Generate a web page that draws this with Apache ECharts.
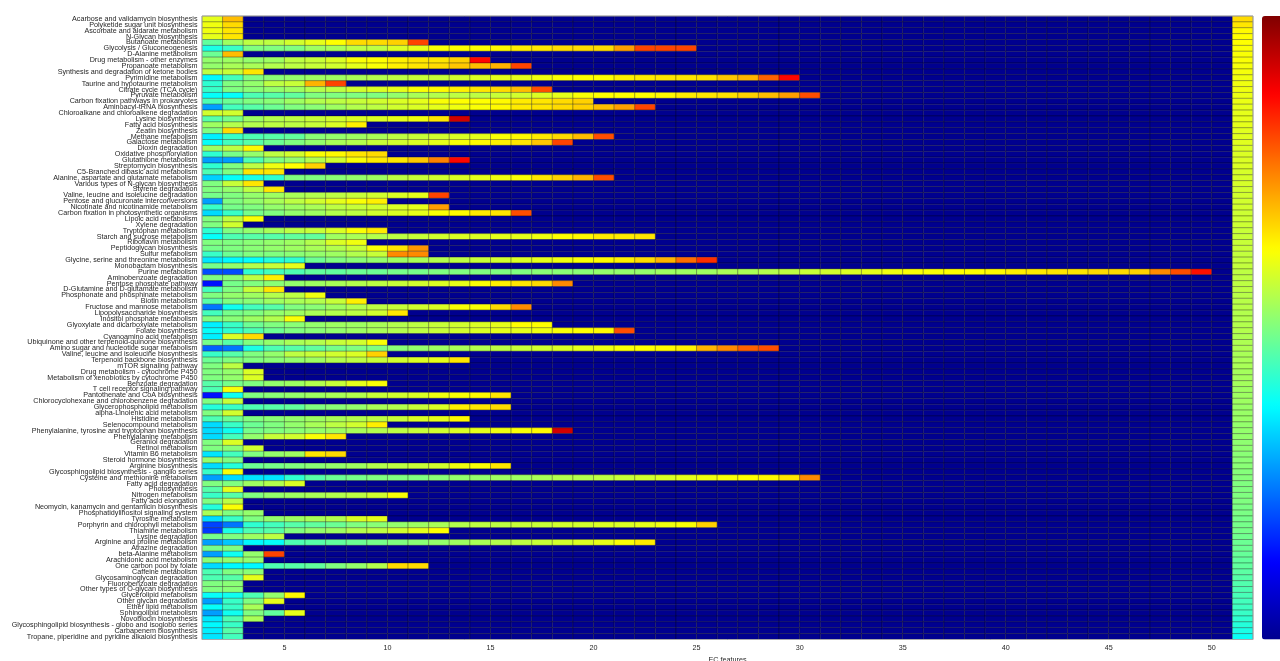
<!DOCTYPE html>
<html>
<head>
<meta charset="utf-8">
<script src="https://cdn.jsdelivr.net/npm/echarts@6/dist/echarts.min.js"></script>
<style>
html,body{margin:0;padding:0;background:#fff;}
#chart{width:1280px;height:661px;}
</style>
</head>
<body>
<div id="chart"></div>
<script>
// Pathway names (rows, top to bottom)
const pathways = [
"Acarbose and validamycin biosynthesis","Polyketide sugar unit biosynthesis","Ascorbate and aldarate metabolism","N-Glycan biosynthesis","Butanoate metabolism","Glycolysis / Gluconeogenesis","D-Alanine metabolism","Drug metabolism - other enzymes","Propanoate metabolism","Synthesis and degradation of ketone bodies",
"Pyrimidine metabolism","Taurine and hypotaurine metabolism","Citrate cycle (TCA cycle)","Pyruvate metabolism","Carbon fixation pathways in prokaryotes","Aminoacyl-tRNA biosynthesis","Chloroalkane and chloroalkene degradation","Lysine biosynthesis","Fatty acid biosynthesis","Zeatin biosynthesis",
"Methane metabolism","Galactose metabolism","Dioxin degradation","Oxidative phosphorylation","Glutathione metabolism","Streptomycin biosynthesis","C5-Branched dibasic acid metabolism","Alanine, aspartate and glutamate metabolism","Various types of N-glycan biosynthesis","Styrene degradation",
"Valine, leucine and isoleucine degradation","Pentose and glucuronate interconversions","Nicotinate and nicotinamide metabolism","Carbon fixation in photosynthetic organisms","Lipoic acid metabolism","Xylene degradation","Tryptophan metabolism","Starch and sucrose metabolism","Riboflavin metabolism","Peptidoglycan biosynthesis",
"Sulfur metabolism","Glycine, serine and threonine metabolism","Monobactam biosynthesis","Purine metabolism","Aminobenzoate degradation","Pentose phosphate pathway","D-Glutamine and D-glutamate metabolism","Phosphonate and phosphinate metabolism","Biotin metabolism","Fructose and mannose metabolism",
"Lipopolysaccharide biosynthesis","Inositol phosphate metabolism","Glyoxylate and dicarboxylate metabolism","Folate biosynthesis","Cyanoamino acid metabolism","Ubiquinone and other terpenoid-quinone biosynthesis","Amino sugar and nucleotide sugar metabolism","Valine, leucine and isoleucine biosynthesis","Terpenoid backbone biosynthesis","mTOR signaling pathway",
"Drug metabolism - cytochrome P450","Metabolism of xenobiotics by cytochrome P450","Benzoate degradation","T cell receptor signaling pathway","Pantothenate and CoA biosynthesis","Chlorocyclohexane and chlorobenzene degradation","Glycerophospholipid metabolism","alpha-Linolenic acid metabolism","Histidine metabolism","Selenocompound metabolism",
"Phenylalanine, tyrosine and tryptophan biosynthesis","Phenylalanine metabolism","Geraniol degradation","Retinol metabolism","Vitamin B6 metabolism","Steroid hormone biosynthesis","Arginine biosynthesis","Glycosphingolipid biosynthesis - ganglio series","Cysteine and methionine metabolism","Fatty acid degradation",
"Photosynthesis","Nitrogen metabolism","Fatty acid elongation","Neomycin, kanamycin and gentamicin biosynthesis","Phosphatidylinositol signaling system","Tyrosine metabolism","Porphyrin and chlorophyll metabolism","Thiamine metabolism","Lysine degradation","Arginine and proline metabolism",
"Atrazine degradation","beta-Alanine metabolism","Arachidonic acid metabolism","One carbon pool by folate","Caffeine metabolism","Glycosaminoglycan degradation","Fluorobenzoate degradation","Other types of O-glycan biosynthesis","Glycerolipid metabolism","Other glycan degradation",
"Ether lipid metabolism","Sphingolipid metabolism","Novobiocin biosynthesis","Glycosphingolipid biosynthesis - globo and isoglobo series","Carbapenem biosynthesis","Tropane, piperidine and pyridine alkaloid biosynthesis"
];

// Values of the filled cells of each row, starting at EC feature 1
const runs = [
[0.6,0.69],
[0.61,0.66],
[0.61,0.65],
[0.6,0.65],
[0.47,0.53,0.56,0.56,0.58,0.6,0.625,0.66,0.66,0.67,0.81],
[0.4,0.43,0.5,0.5,0.5,0.53,0.54,0.56,0.56,0.59,0.6,0.62,0.625,0.625,0.63,0.645,0.65,0.66,0.66,0.66,0.72,0.81,0.81,0.81],
[0.48,0.69],
[0.52,0.53,0.52,0.53,0.56,0.57,0.59,0.62,0.625,0.64,0.65,0.65,0.67,0.87],
[0.52,0.54,0.54,0.55,0.56,0.57,0.58,0.6,0.62,0.64,0.65,0.66,0.68,0.69,0.7,0.81],
[0.56,0.57,0.65],
[0.37,0.44,0.5,0.51,0.52,0.53,0.53,0.54,0.55,0.56,0.57,0.57,0.58,0.59,0.6,0.6,0.61,0.62,0.625,0.625,0.64,0.645,0.65,0.65,0.655,0.68,0.7,0.78,0.87],
[0.42,0.5,0.52,0.56,0.57,0.7,0.81],
[0.43,0.5,0.51,0.52,0.53,0.55,0.56,0.58,0.59,0.6,0.62,0.63,0.64,0.65,0.66,0.69,0.8],
[0.38,0.38,0.45,0.46,0.47,0.5,0.5,0.5,0.5,0.52,0.54,0.55,0.56,0.56,0.57,0.58,0.59,0.6,0.62,0.625,0.625,0.625,0.63,0.645,0.65,0.655,0.67,0.69,0.72,0.8],
[0.45,0.48,0.5,0.51,0.53,0.55,0.56,0.57,0.58,0.59,0.6,0.62,0.625,0.625,0.63,0.645,0.65,0.66,0.67],
[0.28,0.44,0.46,0.48,0.5,0.51,0.53,0.55,0.56,0.58,0.59,0.6,0.61,0.62,0.63,0.645,0.65,0.66,0.67,0.69,0.72,0.81],
[0.58,0.58],
[0.46,0.49,0.53,0.55,0.56,0.57,0.58,0.59,0.59,0.6,0.61,0.65,0.92],
[0.53,0.55,0.55,0.56,0.56,0.57,0.59,0.64],
[0.5,0.66],
[0.36,0.43,0.45,0.46,0.47,0.51,0.52,0.53,0.54,0.56,0.57,0.58,0.59,0.6,0.62,0.63,0.645,0.66,0.69,0.8],
[0.38,0.44,0.46,0.48,0.5,0.52,0.54,0.55,0.57,0.58,0.59,0.6,0.62,0.63,0.64,0.65,0.68,0.81],
[0.53,0.56,0.63],
[0.42,0.49,0.52,0.56,0.58,0.62,0.63,0.65,0.66],
[0.28,0.28,0.45,0.5,0.52,0.55,0.58,0.62,0.645,0.65,0.68,0.75,0.87],
[0.42,0.5,0.56,0.61,0.625,0.67],
[0.45,0.5,0.65,0.65],
[0.33,0.38,0.4,0.42,0.5,0.5,0.51,0.52,0.53,0.56,0.57,0.58,0.59,0.6,0.61,0.62,0.65,0.67,0.7,0.8],
[0.5,0.57,0.65],
[0.5,0.52,0.56,0.65],
[0.49,0.5,0.52,0.53,0.54,0.55,0.56,0.57,0.58,0.59,0.6,0.81],
[0.28,0.5,0.52,0.54,0.56,0.58,0.6,0.62,0.64],
[0.43,0.49,0.5,0.52,0.53,0.54,0.56,0.57,0.58,0.59,0.6,0.72],
[0.34,0.43,0.49,0.5,0.52,0.53,0.55,0.56,0.58,0.59,0.6,0.62,0.63,0.645,0.65,0.8],
[0.5,0.56,0.62],
[0.5,0.58],
[0.42,0.5,0.52,0.54,0.56,0.57,0.59,0.62,0.645],
[0.38,0.45,0.46,0.46,0.47,0.47,0.53,0.54,0.55,0.56,0.57,0.58,0.59,0.59,0.6,0.6,0.61,0.625,0.63,0.645,0.645,0.65],
[0.5,0.5,0.51,0.52,0.53,0.55,0.59,0.61],
[0.49,0.5,0.51,0.52,0.53,0.54,0.55,0.57,0.62,0.65,0.73],
[0.43,0.48,0.5,0.5,0.51,0.52,0.53,0.55,0.57,0.74,0.74],
[0.35,0.37,0.38,0.41,0.42,0.48,0.5,0.51,0.52,0.53,0.54,0.55,0.56,0.57,0.58,0.59,0.6,0.61,0.62,0.63,0.64,0.66,0.7,0.77,0.83],
[0.49,0.52,0.55,0.57,0.6],
[0.2,0.2,0.42,0.44,0.45,0.47,0.47,0.48,0.48,0.49,0.49,0.5,0.5,0.5,0.5,0.5,0.51,0.51,0.51,0.52,0.52,0.52,0.53,0.53,0.53,0.54,0.54,0.55,0.56,0.57,0.58,0.59,0.6,0.61,0.62,0.62,0.625,0.625,0.63,0.64,0.645,0.65,0.65,0.66,0.66,0.67,0.74,0.8,0.86],
[0.5,0.51,0.56,0.64],
[0.14,0.49,0.5,0.51,0.52,0.53,0.54,0.55,0.56,0.57,0.58,0.59,0.6,0.62,0.64,0.65,0.66,0.74],
[0.44,0.5,0.57,0.65],
[0.5,0.52,0.53,0.55,0.56,0.61],
[0.46,0.5,0.51,0.53,0.54,0.55,0.57,0.64],
[0.24,0.39,0.44,0.46,0.5,0.51,0.53,0.55,0.56,0.57,0.58,0.59,0.62,0.62,0.66,0.74],
[0.44,0.49,0.5,0.52,0.53,0.54,0.55,0.56,0.58,0.65],
[0.5,0.51,0.53,0.55,0.62],
[0.36,0.43,0.48,0.5,0.51,0.52,0.53,0.53,0.54,0.55,0.56,0.57,0.58,0.59,0.6,0.625,0.625],
[0.38,0.42,0.45,0.48,0.5,0.51,0.52,0.53,0.54,0.55,0.56,0.57,0.58,0.59,0.6,0.6,0.61,0.62,0.625,0.63,0.8],
[0.36,0.59,0.66],
[0.49,0.46,0.5,0.52,0.54,0.55,0.57,0.58,0.62],
[0.22,0.24,0.4,0.45,0.46,0.47,0.49,0.5,0.5,0.51,0.52,0.53,0.54,0.55,0.56,0.57,0.58,0.59,0.6,0.61,0.62,0.625,0.63,0.64,0.7,0.74,0.78,0.8],
[0.43,0.46,0.5,0.52,0.56,0.57,0.58,0.59,0.67],
[0.48,0.5,0.5,0.51,0.52,0.53,0.55,0.56,0.57,0.58,0.59,0.6,0.65],
[0.5,0.56],
[0.5,0.52,0.59],
[0.5,0.52,0.59],
[0.46,0.49,0.5,0.52,0.53,0.55,0.57,0.6,0.62],
[0.45,0.62],
[0.14,0.39,0.5,0.51,0.52,0.53,0.54,0.55,0.57,0.58,0.59,0.61,0.62,0.63,0.65],
[0.5,0.57],
[0.41,0.43,0.45,0.46,0.47,0.5,0.51,0.52,0.54,0.55,0.57,0.59,0.64,0.65,0.66],
[0.5,0.58],
[0.45,0.48,0.5,0.51,0.52,0.53,0.54,0.55,0.56,0.57,0.59,0.6,0.63],
[0.34,0.43,0.48,0.5,0.52,0.54,0.56,0.58,0.64],
[0.34,0.39,0.49,0.5,0.51,0.52,0.53,0.54,0.55,0.56,0.57,0.58,0.59,0.6,0.61,0.62,0.63,0.92],
[0.34,0.44,0.52,0.57,0.58,0.62,0.65],
[0.5,0.59],
[0.5,0.51,0.58],
[0.35,0.44,0.5,0.52,0.53,0.65,0.66],
[0.52,0.5],
[0.34,0.41,0.48,0.49,0.5,0.51,0.52,0.53,0.55,0.56,0.57,0.58,0.61,0.62,0.65],
[0.43,0.62],
[0.28,0.34,0.35,0.35,0.42,0.46,0.48,0.49,0.5,0.5,0.5,0.51,0.52,0.52,0.53,0.53,0.54,0.55,0.55,0.56,0.57,0.58,0.59,0.6,0.61,0.62,0.625,0.63,0.65,0.74],
[0.5,0.5,0.53,0.55,0.59],
[0.46,0.6],
[0.43,0.46,0.5,0.52,0.53,0.54,0.55,0.56,0.58,0.62],
[0.5,0.56],
[0.41,0.62],
[0.54,0.5,0.52],
[0.34,0.43,0.5,0.52,0.53,0.54,0.55,0.59,0.6],
[0.19,0.24,0.42,0.44,0.46,0.47,0.48,0.5,0.51,0.52,0.53,0.54,0.55,0.56,0.56,0.57,0.57,0.58,0.58,0.59,0.59,0.6,0.61,0.62,0.67],
[0.18,0.4,0.45,0.46,0.5,0.52,0.53,0.55,0.56,0.58,0.6,0.625],
[0.49,0.5,0.53,0.56],
[0.28,0.32,0.37,0.38,0.45,0.46,0.47,0.48,0.49,0.5,0.51,0.52,0.53,0.54,0.55,0.56,0.57,0.58,0.59,0.6,0.62,0.645],
[0.49,0.5],
[0.28,0.39,0.52,0.81],
[0.51,0.52,0.52],
[0.34,0.37,0.37,0.45,0.46,0.47,0.5,0.52,0.55,0.66,0.66],
[0.45,0.5,0.51],
[0.45,0.46,0.6],
[0.5,0.51],
[0.5,0.51],
[0.38,0.39,0.45,0.52,0.63],
[0.28,0.43,0.5,0.6],
[0.38,0.43,0.54],
[0.28,0.39,0.5,0.47,0.6],
[0.35,0.45,0.54],
[0.37,0.43],
[0.36,0.46],
[0.35,0.44]
];

// Values of the last column (EC feature 51)
const lastColumn = [
0.66,0.65,0.63,0.625,0.625,0.62,0.62,0.62,0.615,0.615,
0.61,0.61,0.61,0.605,0.605,0.6,0.6,0.6,0.6,0.595,
0.595,0.595,0.59,0.59,0.59,0.59,0.585,0.585,0.585,0.58,
0.58,0.58,0.58,0.575,0.575,0.575,0.57,0.57,0.57,0.57,
0.565,0.565,0.565,0.56,0.56,0.56,0.56,0.555,0.555,0.555,
0.55,0.55,0.55,0.55,0.545,0.545,0.545,0.54,0.54,0.54,
0.535,0.535,0.535,0.53,0.53,0.53,0.525,0.525,0.525,0.52,
0.52,0.52,0.515,0.515,0.51,0.51,0.51,0.505,0.505,0.5,
0.5,0.5,0.5,0.495,0.495,0.49,0.49,0.49,0.485,0.48,
0.48,0.475,0.47,0.47,0.465,0.46,0.455,0.45,0.445,0.44,
0.435,0.43,0.42,0.41,0.4,0.385
];

const emptyValue = 0;          // value of unfilled cells
const featureCount = 51;
const xTickLabels = [5,10,15,20,25,30,35,40,45,50];

// jet colormap stops
const jet = ['#00008F','#0000FF','#0080FF','#00FFFF','#80FF80','#FFFF00','#FF8000','#FF0000','#800000'];

const data = [];
pathways.forEach((name, r) => {
  for (let c = 1; c <= featureCount; c++) {
    let v;
    if (c === featureCount) v = lastColumn[r];
    else if (c <= runs[r].length) v = runs[r][c - 1];
    else v = emptyValue;
    data.push([c, r, v]);
  }
});

const FONT = '"Liberation Sans", Arial, Helvetica, sans-serif';
const chart = echarts.init(document.getElementById('chart'), null, {renderer: 'canvas'});
chart.setOption({
  animation: false,
  backgroundColor: '#ffffff',
  grid: {left: 202, right: 27, top: 16, bottom: 21.5, containLabel: false, outerBoundsMode: 'none',
         show: true, borderColor: '#a8a8a8', borderWidth: 1, backgroundColor: 'transparent', z: 10},
  xAxis: {
    type: 'value', min: 1, max: featureCount + 1, interval: 1,
    name: 'EC features', nameLocation: 'middle', nameGap: 13,
    nameTextStyle: {fontFamily: FONT, fontSize: 7.2, color: '#262626'},
    axisLine: {show: false},
    axisTick: {show: false, customValues: xTickLabels},
    splitLine: {show: false},
    axisLabel: {customValues: xTickLabels, fontFamily: FONT, fontSize: 7.2, color: '#262626', margin: 5}
  },
  yAxis: {
    type: 'category', data: pathways, inverse: true,
    axisLine: {show: false}, axisTick: {show: false}, splitLine: {show: false},
    axisLabel: {interval: 0, fontFamily: FONT, fontSize: 7.2, color: '#262626', margin: 4.5, lineHeight: 7.2}
  },
  visualMap: {
    type: 'continuous', min: 0, max: 1, dimension: 2, seriesIndex: 0,
    calculable: false, hoverLink: false, orient: 'vertical',
    left: 1262, top: 16, itemWidth: 24, itemHeight: 623.5, padding: 0,
    text: null, inRange: {color: jet}
  },
  series: [{
    type: 'custom',
    progressive: 0,
    data: data,
    encode: {x: 0, y: 1},
    renderItem: function (params, api) {
      const x = api.value(0), y = api.value(1);
      const p0 = api.coord([x, y]);
      const p1 = api.coord([x + 1, y]);
      const h = api.size([0, 1])[1];
      return {
        type: 'rect',
        shape: {x: p0[0], y: p0[1] - h / 2, width: p1[0] - p0[0], height: h},
        style: {fill: api.visual('color'), stroke: 'rgba(0,0,0,0.55)', lineWidth: 0.5}
      };
    }
  }]
});
</script>
</body>
</html>
